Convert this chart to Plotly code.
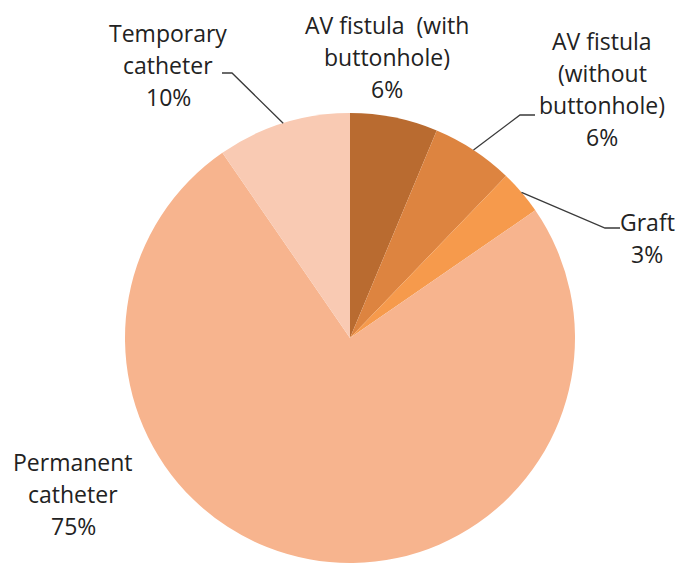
import math
import plotly.graph_objects as go

# ---- data ----
categories = ["AV fistula  (with<br>buttonhole)",
              "AV fistula<br>(without<br>buttonhole)",
              "Graft",
              "Permanent<br>catheter",
              "Temporary<br>catheter"]
values = [6.3, 5.9, 3.2, 75.0, 9.6]
colors = ["#B96B30", "#DD8440", "#F69A4C", "#F7B48E", "#F9CAB3"]

# ---- layout constants (pixels) ----
W, H = 678, 565
cx, cy, r = 350, 338, 225
label_top = [(387, 25), (602, 41), (647, 222), (73, 462), (168, 33)]
line_h = 32
leader_elbows = {1: [(520, 115), (535, 115)],
                 2: [(605, 228), (620, 228)],
                 4: [(232, 73), (222, 73)]}

fig = go.Figure()
fig.add_trace(go.Pie(
    labels=[c.replace("<br>", " ") for c in categories],
    values=values,
    marker=dict(colors=colors, line=dict(width=0)),
    sort=False, direction="clockwise", rotation=0,
    textinfo="none", hoverinfo="skip", showlegend=False,
    domain=dict(x=[(cx - r) / W, (cx + r) / W],
                y=[1 - (cy + r) / H, 1 - (cy - r) / H]),
))

# hidden pixel axes for overlays
fig.update_xaxes(range=[0, W], visible=False, fixedrange=True)
fig.update_yaxes(range=[H, 0], visible=False, fixedrange=True)

total = sum(values)
cum = 0.0
annotations = []
shapes = []
for i, (cat, v) in enumerate(zip(categories, values)):
    mid = (cum + v / 2) / total * 2 * math.pi
    cum += v
    lines = cat.split("<br>") + [f"{v / total:.0%}"]
    lx, ly = label_top[i]
    for k, t in enumerate(lines):
        annotations.append(dict(x=lx, y=ly + k * line_h, xref="x", yref="y",
                                text=t, showarrow=False, xanchor="center",
                                yanchor="middle",
                                font=dict(family="Open Sans", size=23, color="#222222")))
    if i in leader_elbows:
        ex = cx + r * math.sin(mid)
        ey = cy - r * math.cos(mid)
        pts = [(ex, ey)] + leader_elbows[i]
        path = "M " + " L ".join(f"{x:.1f},{y:.1f}" for x, y in pts)
        shapes.append(dict(type="path", path=path, xref="x", yref="y",
                           line=dict(color="#3a3a3a", width=1.3)))

fig.update_layout(width=W, height=H, margin=dict(l=0, r=0, t=0, b=0),
                  paper_bgcolor="white", plot_bgcolor="rgba(0,0,0,0)",
                  annotations=annotations, shapes=shapes)
fig.write_html("out.html", config={"displayModeBar": False},
               post_script="document.body.style.margin='0';document.body.style.overflow='hidden';")
